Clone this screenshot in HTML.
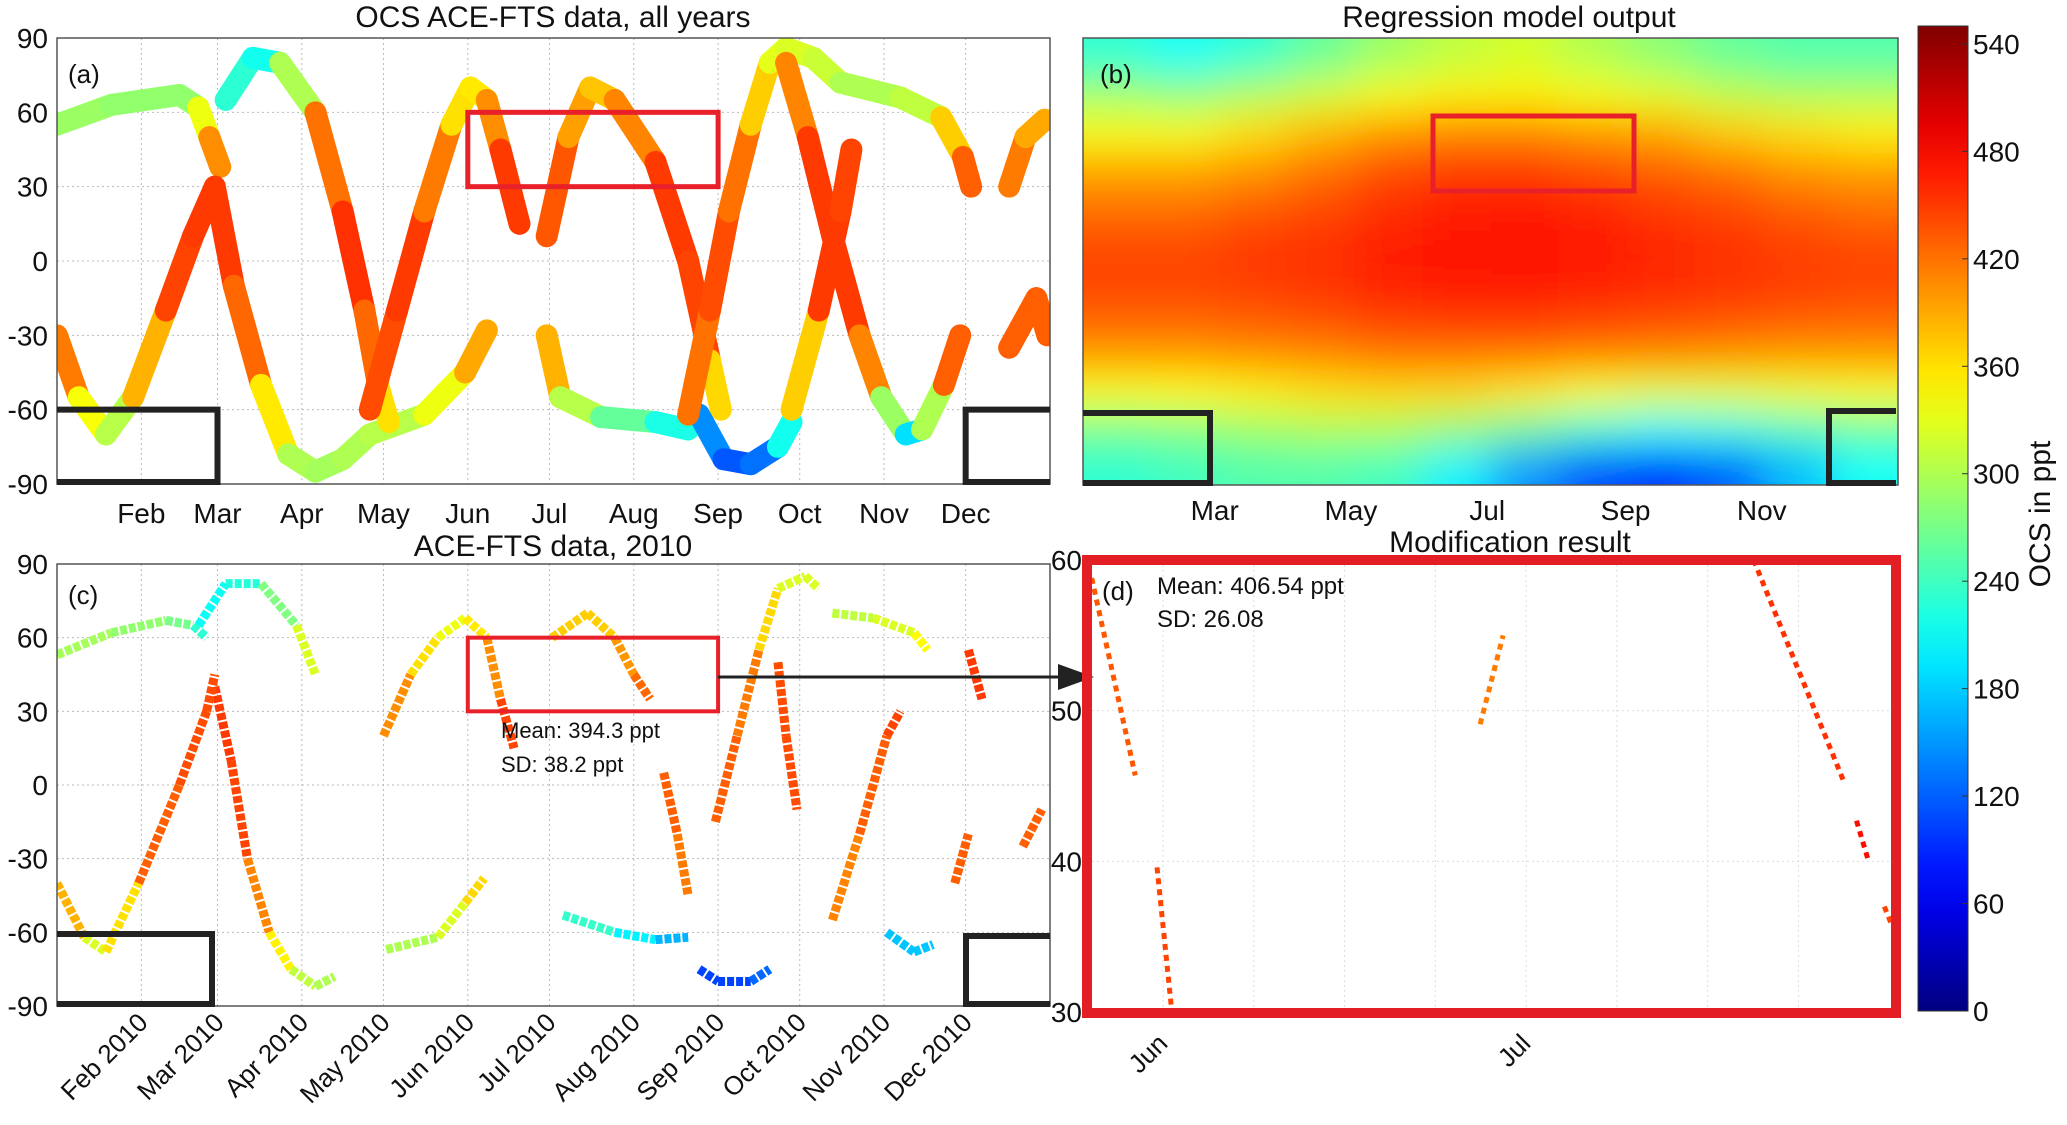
<!DOCTYPE html>
<html><head><meta charset="utf-8">
<style>
html,body{margin:0;padding:0;background:#fff;}
svg{display:block;font-family:"Liberation Sans",sans-serif;}
</style></head>
<body>
<svg id="fig" width="2067" height="1125" viewBox="0 0 2067 1125" xmlns="http://www.w3.org/2000/svg">
<defs>
<filter id="blur" x="-10%" y="-10%" width="120%" height="120%"><feGaussianBlur stdDeviation="22"/></filter>
<clipPath id="clipB"><rect x="1083" y="38" width="815" height="447"/></clipPath>
<clipPath id="clipA"><rect x="57" y="38" width="993" height="446"/></clipPath>
<clipPath id="clipC"><rect x="57" y="564" width="993" height="442"/></clipPath>
<clipPath id="clipD"><rect x="1082" y="560" width="812" height="452"/></clipPath>
</defs>
</svg>
<script>
// ---------- data ----------
const monthDays=[31,59,90,120,151,181,212,243,273,304,334];
const monthNames=["Feb","Mar","Apr","May","Jun","Jul","Aug","Sep","Oct","Nov","Dec"];
const monthNames2010=["Feb 2010","Mar 2010","Apr 2010","May 2010","Jun 2010","Jul 2010","Aug 2010","Sep 2010","Oct 2010","Nov 2010","Dec 2010"];
const latTicks=[90,60,30,0,-30,-60,-90];
// panel (a) tracks: [day, lat, ocs]
const tracksA=[
 [[0,55,290],[20,63,290],[45,67,280],[52,62,290],[56,50,380],[60,38,430]],
 [[0,-30,430],[8,-55,400],[18,-70,280],[28,-55,330],[40,-20,440],[50,10,450],[58,30,450]],
 [[58,30,450],[65,-10,450],[75,-50,400],[85,-78,310],[95,-85,290],[105,-80,300],[115,-70,300],[135,-62,310],[150,-45,360],[158,-28,420]],
 [[62,65,250],[72,82,210],[82,80,220],[95,60,380],[105,20,460],[113,-20,450],[118,-50,400],[122,-65,320]],
 [[115,-60,430],[125,-20,450],[135,20,450],[145,55,380],[152,70,340],[158,65,370],[163,45,440],[170,15,460]],
 [[180,-30,440],[185,-55,330],[200,-63,280],[220,-65,240],[232,-68,200]],
 [[180,10,450],[188,50,420],[196,70,370],[205,65,380],[220,40,440],[232,0,460],[240,-40,430],[244,-60,300]],
 [[236,-62,170],[245,-80,120],[255,-82,110],[265,-75,150],[270,-65,280]],
 [[232,-62,400],[240,-20,440],[247,20,440],[255,55,400],[262,80,340],[268,86,320],[278,82,330],[288,72,300],[310,66,300],[325,58,320],[333,42,420],[336,30,440]],
 [[268,80,380],[276,50,440],[285,10,460],[295,-30,440],[303,-55,380],[312,-70,200],[318,-68,180],[326,-50,420],[332,-30,440]],
 [[270,-60,300],[280,-20,440],[288,20,460],[292,45,430]],
 [[350,30,430],[356,50,400],[363,57,380]],
 [[350,-35,430],[360,-15,430],[364,-30,430]]
];
// panel (c) tracks, 2010
const tracksC=[
 [[0,53,300],[20,62,290],[40,67,280],[50,65,260],[55,60,200]],
 [[52,65,200],[62,82,220],[75,82,230],[88,65,320],[95,45,330]],
 [[58,40,450],[64,10,450],[70,-30,440],[78,-60,380],[86,-75,320],[95,-82,300],[102,-78,300]],
 [[0,-40,420],[10,-62,350],[18,-68,300],[30,-40,420],[45,0,440],[55,30,440],[58,45,440]],
 [[121,-67,300],[140,-62,300],[150,-48,350],[157,-38,380]],
 [[120,20,430],[130,45,380],[140,60,340],[150,68,330],[158,60,380],[163,35,430],[168,15,460]],
 [[186,-53,250],[205,-60,220],[220,-63,180],[232,-62,150]],
 [[182,60,380],[195,70,360],[205,60,380],[212,45,420],[218,35,430]],
 [[223,5,430],[228,-20,430],[232,-45,400]],
 [[236,-75,110],[243,-80,100],[255,-80,110],[262,-75,140]],
 [[242,-15,430],[250,20,430],[258,55,400],[265,80,330],[275,85,320],[280,80,330]],
 [[285,70,300],[300,68,320],[315,62,330],[320,55,360]],
 [[265,50,440],[268,20,440],[272,-10,440]],
 [[285,-55,400],[295,-20,420],[305,20,440],[310,30,450]],
 [[305,-60,200],[315,-68,150],[322,-65,200]],
 [[330,-40,420],[335,-20,440]],
 [[335,55,440],[340,35,460]],
 [[355,-25,430],[362,-10,430]]
];
// panel (b) regression field: rows lat 82.5 .. -82.5, cols Jan..Dec
const fieldLats=[82.5,67.5,52.5,37.5,22.5,7.5,-7.5,-22.5,-37.5,-52.5,-67.5,-82.5];
const fieldVals=[
 [230,210,230,260,290,310,320,300,280,260,250,250],
 [290,280,300,320,340,350,350,340,330,310,300,300],
 [340,340,360,380,400,410,410,400,390,370,360,350],
 [390,390,400,420,440,450,450,440,430,420,400,395],
 [420,420,430,440,455,465,465,460,450,440,430,420],
 [440,440,450,455,465,470,475,470,460,455,445,440],
 [445,445,450,455,465,470,470,465,460,455,450,445],
 [430,430,435,440,450,455,455,450,445,440,435,430],
 [400,400,405,410,420,420,420,415,410,405,400,400],
 [340,345,350,360,365,365,355,340,330,330,335,340],
 [270,275,290,300,300,285,260,230,210,220,240,260],
 [230,240,250,250,240,200,150,110,90,120,170,210]
];
const cbTicks=[0,60,120,180,240,300,360,420,480,540];
// panel (d) segments [day, lat, ocs]
const segsD=[
 [[145.1,58.8,430],[148.7,45.7,440]],
 [[150.5,39.6,440],[151.7,30.2,450]],
 [[177.2,49.1,430],[179.1,55.0,400]],
 [[199.8,60,450],[207.2,45.4,460]],
 [[208.3,42.7,470],[209.3,40,480]],
 [[210.6,37,450],[211.2,35.8,440]]
];
const dGridDays=[151,158.5,166,173.5,181,188.5,196,203.5];
const dLatTicks=[60,50,40,30];
const dTickDays=[151,181];
const dTickNames=["Jun","Jul"];

// ---------- helpers ----------
const NS="http://www.w3.org/2000/svg";
const svg=document.getElementById('fig');
function mk(tag,attrs,parent){const e=document.createElementNS(NS,tag);for(const k in attrs)e.setAttribute(k,attrs[k]);(parent||svg).appendChild(e);return e;}
function cl(v){return Math.max(0,Math.min(1,v));}
function jet(v){const t=cl(v/550);const r=cl(1.5-Math.abs(4*t-3)),g=cl(1.5-Math.abs(4*t-2)),b=cl(1.5-Math.abs(4*t-1));return `rgb(${Math.round(r*255)},${Math.round(g*255)},${Math.round(b*255)})`;}
const xa=d=>57+d/365*993, ya=l=>38+(90-l)/180*446;
const xc=d=>57+d/365*993, yc=l=>564+(90-l)/180*442;
const xb=d=>1083+d/365*815, yb=l=>38+(90-l)/180*447;
const xd=d=>1082+(d-144.3)/(211.4-144.3)*812, yd=l=>560+(60-l)/30*452;

function txt(x,y,s,size,anchor,name,parent){const t=mk('text',{x:x,y:y,'font-size':size,'text-anchor':anchor||'middle',fill:'#111'},parent);t.textContent=s;


return t;}

// ---------- panel (a) ----------
const gA=mk('g',{});


monthDays.forEach((d,i)=>{const l=mk('line',{x1:xa(d),x2:xa(d),y1:38,y2:484,stroke:'#bbb','stroke-dasharray':'2 3'},gA);


txt(xa(d),523,monthNames[i],28,'middle','x-tick-label-a',gA);});
latTicks.forEach(v=>{const l=mk('line',{x1:57,x2:1050,y1:ya(v),y2:ya(v),stroke:'#bbb','stroke-dasharray':'2 3'},gA);


txt(48,ya(v)+10,String(v),28,'end','y-tick-label-a',gA);});
const tA=mk('g',{'clip-path':'url(#clipA)'},gA);


tracksA.forEach(tr=>{for(let i=0;i<tr.length-1;i++){const p=tr[i],q=tr[i+1];const s=mk('line',{x1:xa(p[0]),y1:ya(p[1]),x2:xa(q[0]),y2:ya(q[1]),stroke:jet((p[2]+q[2])/2),'stroke-width':22,'stroke-linecap':'round'},tA);

}});
let r=mk('rect',{x:57,y:38,width:993,height:446,fill:'none',stroke:'#555','stroke-width':1.5},gA);


r=mk('rect',{x:xa(151),y:ya(60),width:xa(243)-xa(151),height:ya(30)-ya(60),fill:'none',stroke:'#e8202a','stroke-width':5},gA);


let p=mk('polyline',{points:`57,${ya(-60)} ${xa(59)},${ya(-60)} ${xa(59)},482 57,482`,fill:'none',stroke:'#222','stroke-width':6},gA);


p=mk('polyline',{points:`1050,${ya(-60)} ${xa(334)},${ya(-60)} ${xa(334)},482 1050,482`,fill:'none',stroke:'#222','stroke-width':6},gA);


txt(68,83,'(a)',26,'start','panel-label-a',gA);
txt(553,27,'OCS ACE-FTS data, all years',30,'middle','title-a',gA);

// ---------- panel (b) ----------
const gB=mk('g',{});


const hm=mk('g',{'clip-path':'url(#clipB)'},gB);


const hmInner=mk('g',{filter:'url(#blur)'},hm);
const cw=815/12,ch=447/12;
fieldVals.forEach((row,ri)=>row.forEach((v,ci)=>{let x=1083+ci*cw,y=38+ri*ch,w=cw+1,h=ch+1;
if(ci===0){x-=80;w+=80;} if(ci===11){w+=80;} if(ri===0){y-=80;h+=80;} if(ri===11){h+=80;}
const c=mk('rect',{x:x,y:y,width:w,height:h,fill:jet(v)},hmInner);

}));
[59,120,181,243,304].forEach((d,i)=>txt(xb(d),520,["Mar","May","Jul","Sep","Nov"][i],28,'middle','x-tick-label-b',gB));
r=mk('rect',{x:1083,y:38,width:815,height:447,fill:'none',stroke:'#555','stroke-width':1.5},gB);


r=mk('rect',{x:1433,y:116,width:201,height:75,fill:'none',stroke:'#e8202a','stroke-width':5},gB);


p=mk('polyline',{points:`1083,413 1210,413 1210,483 1083,483`,fill:'none',stroke:'#222','stroke-width':6},gB);


p=mk('polyline',{points:`1896,411 1829,411 1829,483 1896,483`,fill:'none',stroke:'#222','stroke-width':6},gB);


txt(1100,83,'(b)',26,'start','panel-label-b',gB);
txt(1509,27,'Regression model output',30,'middle','title-b',gB);

// ---------- colorbar ----------
const gCB=mk('g',{});


const defs=svg.querySelector('defs');
const lg=mk('linearGradient',{id:'jetg',x1:0,y1:1,x2:0,y2:0},defs);
for(let i=0;i<=20;i++){mk('stop',{offset:i/20,'stop-color':jet(i/20*550)},lg);}
r=mk('rect',{x:1918,y:26,width:50,height:985,fill:'url(#jetg)',stroke:'#333','stroke-width':1},gCB);


const ycb=v=>1011-v/550*985;
cbTicks.forEach(v=>{const l=mk('line',{x1:1962,x2:1968,y1:ycb(v),y2:ycb(v),stroke:'#333'},gCB);


txt(1973,ycb(v)+10,String(v),28,'start','colorbar-tick-label',gCB);});
const cbl=txt(2050,514,'OCS in ppt',30,'middle','colorbar-title',gCB);
cbl.setAttribute('transform','rotate(-90 2050 514)');

// ---------- panel (c) ----------
const gC=mk('g',{});


monthDays.forEach((d,i)=>{const l=mk('line',{x1:xc(d),x2:xc(d),y1:564,y2:1006,stroke:'#bbb','stroke-dasharray':'2 3'},gC);


const t=txt(xc(d)+8,1024,monthNames2010[i],26,'end','x-tick-label-c',gC);
t.setAttribute('transform',`rotate(-45 ${xc(d)+8} 1024)`);});
latTicks.forEach(v=>{const l=mk('line',{x1:57,x2:1050,y1:yc(v),y2:yc(v),stroke:'#bbb','stroke-dasharray':'2 3'},gC);


txt(48,yc(v)+10,String(v),28,'end','y-tick-label-c',gC);});
const tC=mk('g',{'clip-path':'url(#clipC)'},gC);


tracksC.forEach(tr=>{for(let i=0;i<tr.length-1;i++){const a=tr[i],b=tr[i+1];const s=mk('line',{x1:xc(a[0]),y1:yc(a[1]),x2:xc(b[0]),y2:yc(b[1]),stroke:jet((a[2]+b[2])/2),'stroke-width':9,'stroke-dasharray':'7 2'},tC);

}});
r=mk('rect',{x:57,y:564,width:993,height:442,fill:'none',stroke:'#555','stroke-width':1.5},gC);


r=mk('rect',{x:xc(151),y:yc(60),width:xc(243)-xc(151),height:yc(30)-yc(60),fill:'none',stroke:'#e8202a','stroke-width':4},gC);


p=mk('polyline',{points:`57,934 212,934 212,1004 57,1004`,fill:'none',stroke:'#222','stroke-width':6},gC);


p=mk('polyline',{points:`1050,936 966,936 966,1004 1050,1004`,fill:'none',stroke:'#222','stroke-width':6},gC);


txt(68,604,'(c)',26,'start','panel-label-c',gC);
txt(553,556,'ACE-FTS data, 2010',30,'middle','title-c',gC);
txt(501,738,'Mean: 394.3 ppt',22,'start','mean-label-c',gC);
txt(501,772,'SD:  38.2 ppt',22,'start','sd-label-c',gC);

// arrow
let ar=mk('line',{x1:718,y1:677,x2:1062,y2:677,stroke:'#222','stroke-width':3});


ar=mk('polygon',{points:'1094,677 1058,664 1058,690',fill:'#222'});



// ---------- panel (d) ----------
const gD=mk('g',{});


dGridDays.forEach(d=>{const l=mk('line',{x1:xd(d),x2:xd(d),y1:560,y2:1012,stroke:'#ddd','stroke-dasharray':'2 3'},gD);

});
dLatTicks.forEach(v=>{const l=mk('line',{x1:1082,x2:1894,y1:yd(v),y2:yd(v),stroke:'#ddd','stroke-dasharray':'2 3'},gD);


txt(1082,yd(v)+10,String(v),28,'end','y-tick-label-d',gD);});
dTickDays.forEach((d,i)=>{const t=txt(xd(d)+6,1045,dTickNames[i],26,'end','x-tick-label-d',gD);
t.setAttribute('transform',`rotate(-45 ${xd(d)+6} 1045)`);});
const tD=mk('g',{'clip-path':'url(#clipD)'},gD);


segsD.forEach(sg=>{for(let i=0;i<sg.length-1;i++){const a=sg[i],b=sg[i+1];const s=mk('line',{x1:xd(a[0]),y1:yd(a[1]),x2:xd(b[0]),y2:yd(b[1]),stroke:jet((a[2]+b[2])/2),'stroke-width':5,'stroke-dasharray':'6 5'},tD);

}});
r=mk('rect',{x:1087,y:560,width:809,height:453,fill:'none',stroke:'#e31e24','stroke-width':10},gD);


txt(1102,600,'(d)',26,'start','panel-label-d',gD);
txt(1157,594,'Mean: 406.54 ppt',24,'start','mean-label-d',gD);
txt(1157,627,'SD: 26.08',24,'start','sd-label-d',gD);
txt(1510,552,'Modification result',30,'middle','title-d',gD);
</script>
</body></html>
